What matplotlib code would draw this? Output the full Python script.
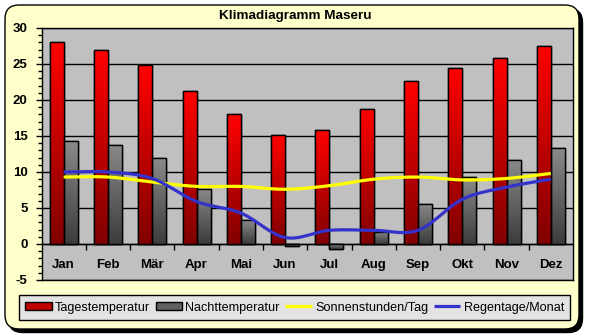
import numpy as np
import matplotlib
matplotlib.use('Agg')
import matplotlib.pyplot as plt
from matplotlib.patches import FancyBboxPatch
from matplotlib.colors import LinearSegmentedColormap

plt.rcParams['font.family'] = ['Liberation Sans', 'DejaVu Sans']
plt.rcParams['axes.unicode_minus'] = False

months = ['Jan', 'Feb', 'Mär', 'Apr', 'Mai', 'Jun', 'Jul', 'Aug', 'Sep', 'Okt', 'Nov', 'Dez']
tag_temp = [28.0, 27.0, 24.8, 21.3, 18.0, 15.2, 15.8, 18.7, 22.6, 24.4, 25.8, 27.5]
nacht_temp = [14.3, 13.8, 11.9, 7.7, 3.3, -0.3, -0.7, 1.7, 5.6, 9.3, 11.6, 13.3]
sonne = [9.3, 9.3, 8.6, 8.0, 8.0, 7.6, 8.1, 9.0, 9.3, 8.9, 9.1, 9.8]
regen = [10.0, 10.0, 9.1, 5.9, 4.3, 0.9, 1.9, 1.9, 1.9, 6.2, 7.9, 9.0]

W, H = 589, 336
fig = plt.figure(figsize=(W / 100, H / 100), dpi=100)
fig.patch.set_facecolor('white')

# rounded yellow frame with shadow, drawn in pixel units
bg = fig.add_axes([0, 0, 1, 1], zorder=-5)
bg.set_xlim(0, W)
bg.set_ylim(H, 0)
bg.axis('off')
bg.add_patch(FancyBboxPatch((8.5, 8.5), 574, 324, boxstyle='round,pad=0,rounding_size=14',
                            facecolor='black', edgecolor='black', lw=1))
bg.add_patch(FancyBboxPatch((5, 5), 574, 324, boxstyle='round,pad=0,rounding_size=14',
                            facecolor='#FFFFCC', edgecolor='black', lw=1))

ax = fig.add_axes([41.5 / W, 1 - 280 / H, 531.5 / W, 252 / H])
ax.set_facecolor('#C0C0C0')
for s in ax.spines.values():
    s.set_color('black')
    s.set_linewidth(1)

x = np.arange(len(months))
bw = 0.316
red_cmap = LinearSegmentedColormap.from_list('r', ['#800000', '#FF0000'])
grey_cmap = LinearSegmentedColormap.from_list('g', ['#3C3C3C', '#8A8A8A'])
grad = np.linspace(0, 1, 256).reshape(-1, 1)

bars_r = ax.bar(x - bw / 2, tag_temp, bw, color='#C00000', edgecolor='black', linewidth=1,
                zorder=2, label='Tagestemperatur')
bars_g = ax.bar(x + bw / 2, nacht_temp, bw, color='#606060', edgecolor='black', linewidth=1,
                zorder=2, label='Nachttemperatur')
for bars, cmap in [(bars_r, red_cmap), (bars_g, grey_cmap)]:
    for b in bars:
        x0, y0 = b.get_x(), b.get_y()
        w, h = b.get_width(), b.get_height()
        lo, hi = min(y0, y0 + h), max(y0, y0 + h)
        im = ax.imshow(grad, cmap=cmap, extent=[x0, x0 + w, lo, hi], origin='lower',
                       aspect='auto', zorder=2.5, interpolation='bilinear')
        im.set_clip_path(b)
        ax.bar(x0 + w / 2, h, w, bottom=y0, facecolor='none', edgecolor='black',
               linewidth=1, zorder=3)


def smooth(xs, ys, n=24):
    # Catmull-Rom curve through the points, like a smoothed Excel line
    xs = np.asarray(xs, float)
    ys = np.asarray(ys, float)
    px = np.concatenate([[2 * xs[0] - xs[1]], xs, [2 * xs[-1] - xs[-2]]])
    py = np.concatenate([[2 * ys[0] - ys[1]], ys, [2 * ys[-1] - ys[-2]]])
    ox, oy = [], []
    t = np.linspace(0, 1, n, endpoint=False)
    for i in range(1, len(px) - 2):
        for p, out in [(px, ox), (py, oy)]:
            a, b, c, d = p[i - 1], p[i], p[i + 1], p[i + 2]
            out.extend(0.5 * (2 * b + (-a + c) * t + (2 * a - 5 * b + 4 * c - d) * t ** 2
                              + (-a + 3 * b - 3 * c + d) * t ** 3))
    ox.append(xs[-1])
    oy.append(ys[-1])
    return ox, oy


sx, sy = smooth(x, sonne)
line_s, = ax.plot(sx, sy, color='#FFFF00', lw=2.3, zorder=4, label='Sonnenstunden/Tag',
                  solid_capstyle='butt')
rx, ry = smooth(x, regen)
line_r, = ax.plot(rx, ry, color='#3333CC', lw=2.3, zorder=4.5, label='Regentage/Monat',
                  solid_capstyle='butt')

ax.set_xlim(-0.5, 11.5)
ax.set_ylim(-5, 30)
ax.set_yticks(np.arange(-5, 31, 5))
ax.set_yticks(np.arange(-5, 31, 1), minor=True)
ax.yaxis.grid(True, color='black', lw=1)
ax.set_axisbelow(True)
ax.tick_params(axis='y', which='major', length=4, width=1, pad=6, labelsize=9.5)
ax.tick_params(axis='y', which='minor', length=3, width=1)
for lab in ax.get_yticklabels():
    lab.set_fontweight('bold')
ax.set_xticks([])

sec = ax.secondary_xaxis(5 / 35)
sec.set_xticks(x, months)
sec.set_xticks(np.arange(0.5, 11, 1), minor=True)
sec.tick_params(which='major', length=0, pad=10.5, labelsize=9.5)
sec.tick_params(which='minor', length=4, width=1, direction='out')
sec.spines['bottom'].set_linewidth(1)
for lab in sec.get_xticklabels():
    lab.set_fontweight('bold')

fig.text(295 / W, 1 - 16 / H, 'Klimadiagramm Maseru', ha='center', va='center',
         fontsize=9.7, fontweight='bold')

leg = fig.legend(handles=[bars_r, bars_g, line_s, line_r],
                 labels=['Tagestemperatur', 'Nachttemperatur', 'Sonnenstunden/Tag', 'Regentage/Monat'],
                 loc='center', ncol=4, bbox_to_anchor=(294.5 / W, 1 - 307.5 / H),
                 borderaxespad=0, fontsize=9.1, handlelength=2.1, handleheight=0.55,
                 handletextpad=0.25, columnspacing=0.45, borderpad=0.5,
                 fancybox=False, framealpha=1, facecolor='#E3E3E3', edgecolor='black')
leg.get_frame().set_linewidth(1)

fig.savefig('out.png', dpi=100)
